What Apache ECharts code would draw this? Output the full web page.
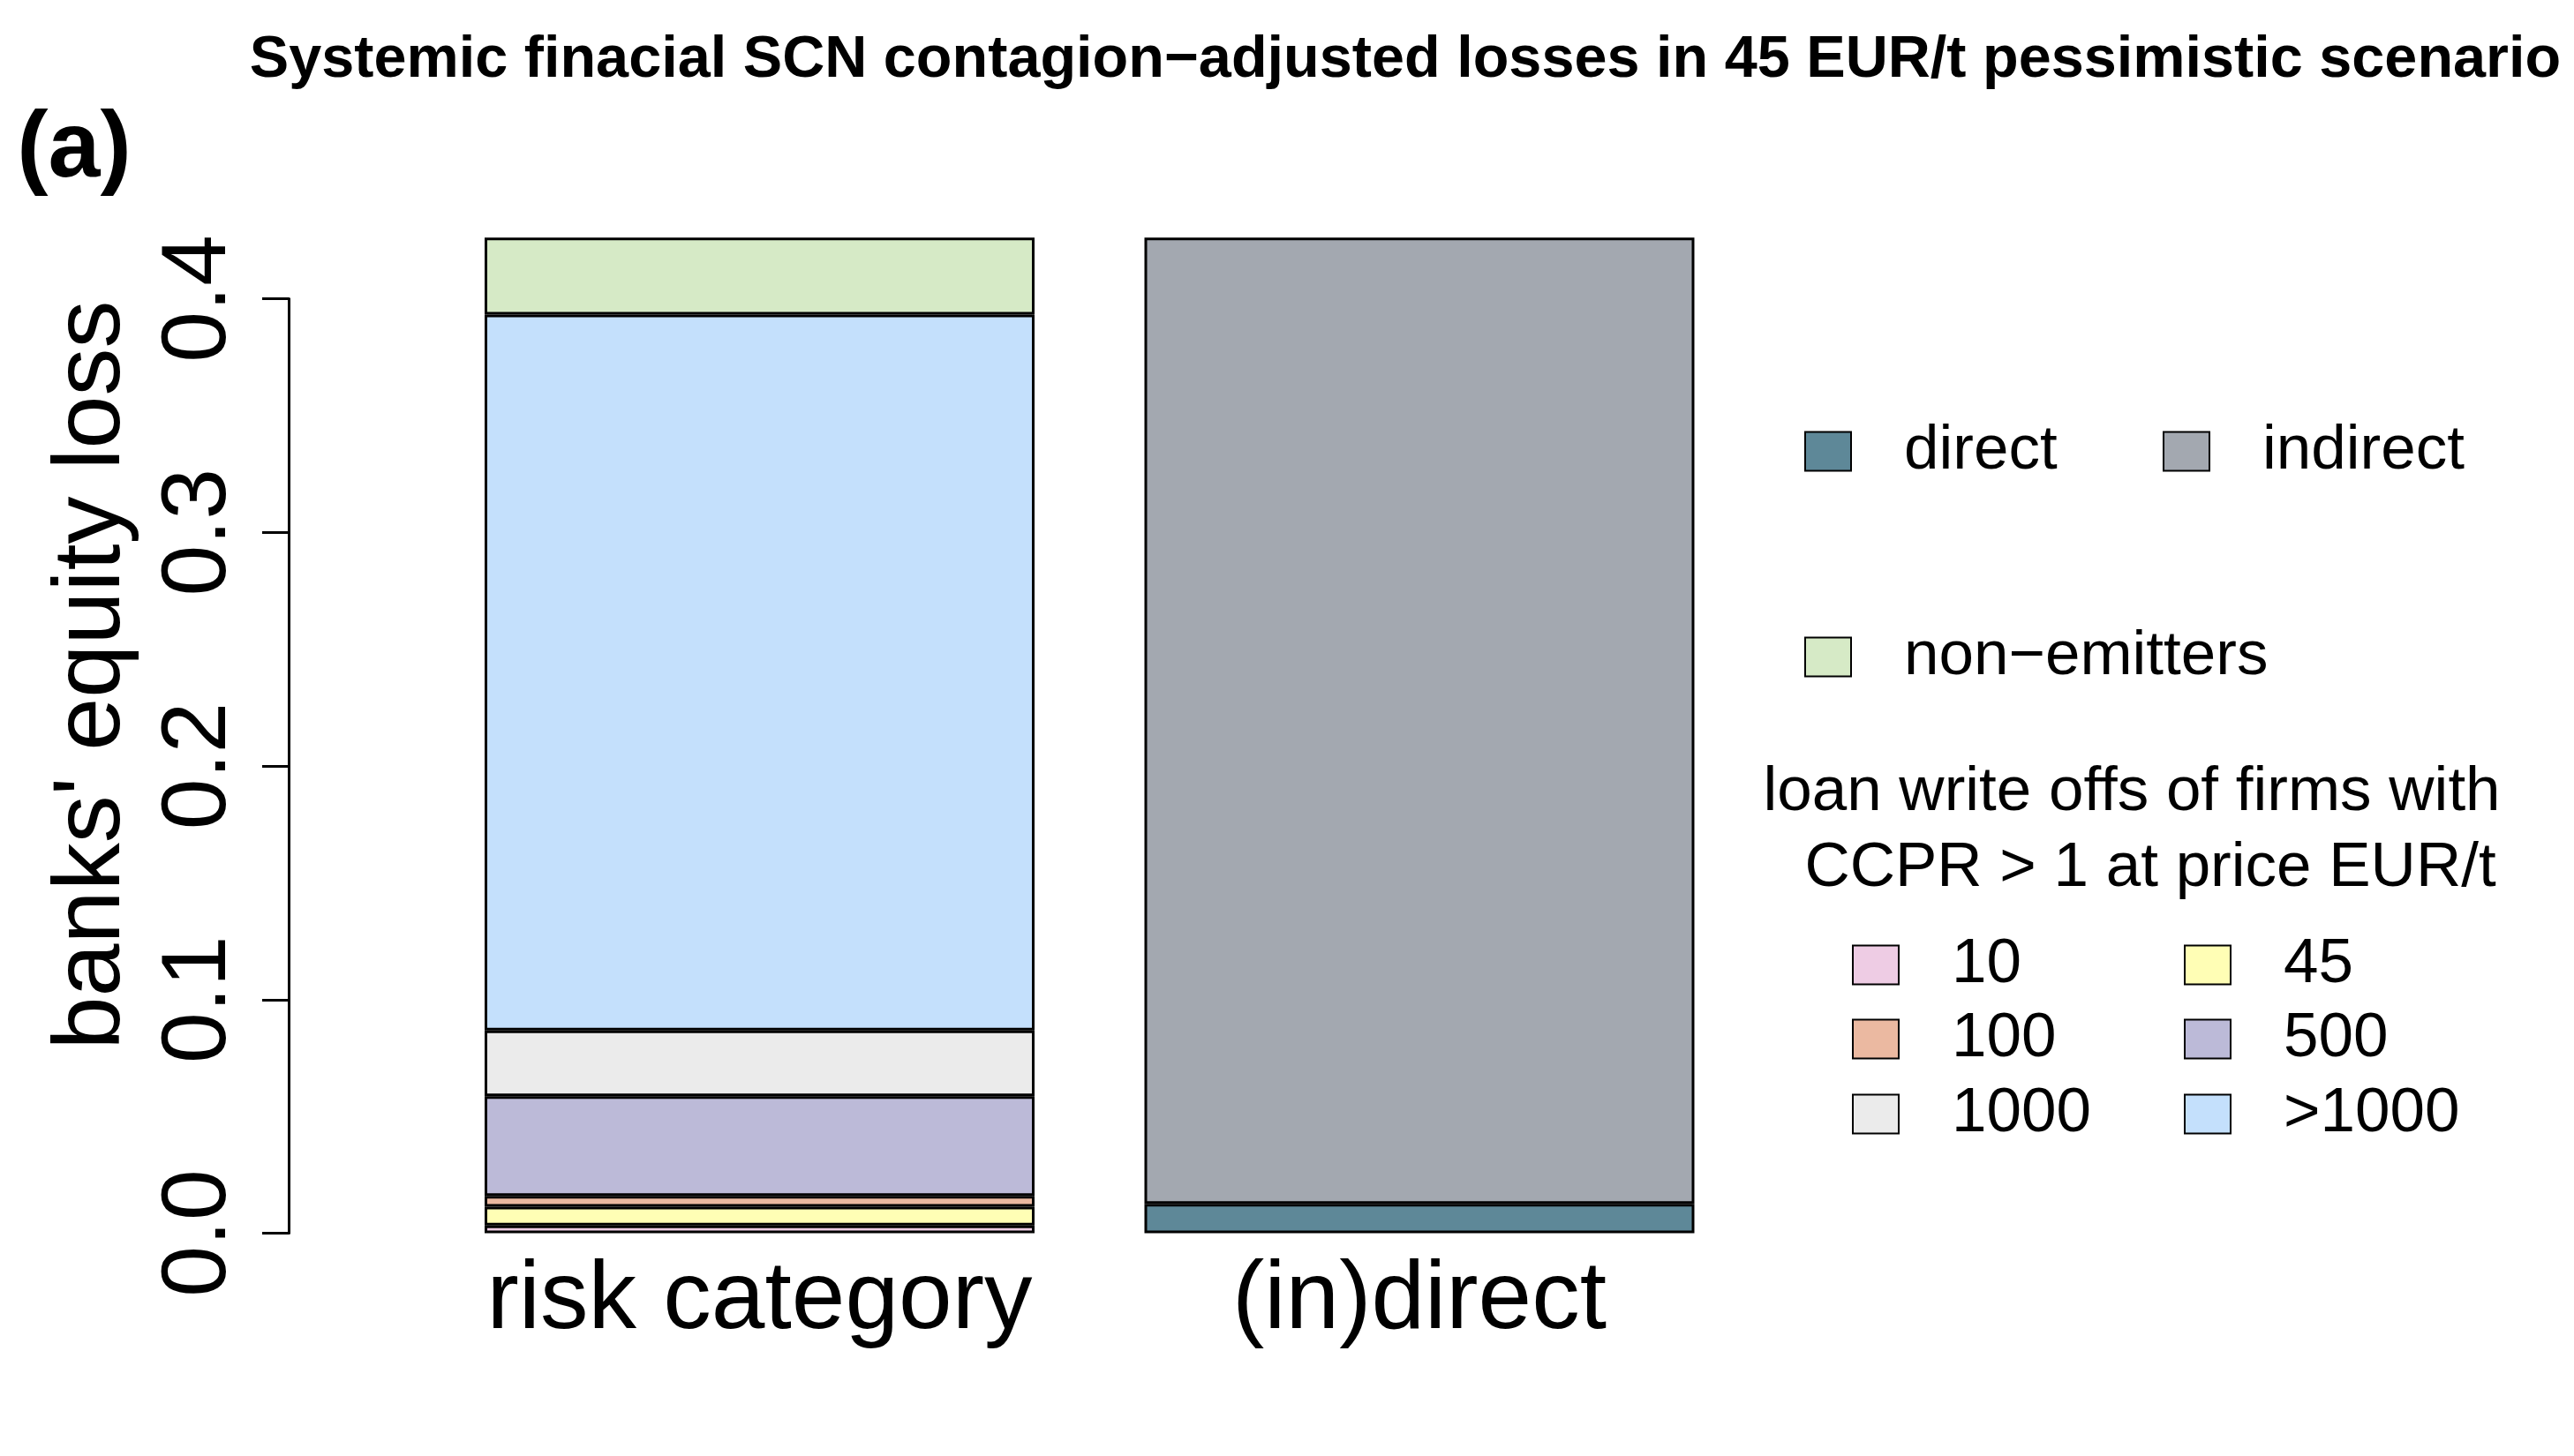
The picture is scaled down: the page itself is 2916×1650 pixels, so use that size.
<!DOCTYPE html>
<html><head><meta charset="utf-8">
<script src="https://cdn.jsdelivr.net/npm/echarts@6/dist/echarts.min.js"></script>
<style>html,body{margin:0;padding:0;background:#fff}#c{width:2916px;height:1650px}</style>
</head><body><div id="c"></div>
<script>
// ---- data ----
const categories = ['risk category', '(in)direct'];
const riskNames = ['10', '45', '100', '500', '1000', '>1000', 'non−emitters'];
const riskValues = [0.0033, 0.0080, 0.0047, 0.0426, 0.0282, 0.3064, 0.0330];
const channelNames = ['direct', 'indirect'];
const channelValues = [0.0126, 0.4136];
const yTicks = [0, 0.1, 0.2, 0.3, 0.4];
const titleText = 'Systemic finacial SCN contagion−adjusted losses in 45 EUR/t pessimistic scenario';
const legendTitle = ['loan write offs of firms with', 'CCPR > 1 at price EUR/t'];

// ---- styles ----
const FONT = '"Liberation Sans", Arial, Helvetica, sans-serif';
const colorMap = {
  '10': '#EECCE4', '45': '#FFFEB5', '100': '#EBB9A1', '500': '#BCBAD8',
  '1000': '#EBEBEB', '>1000': '#C4E0FC', 'non−emitters': '#D6EAC6',
  'direct': '#5E8898', 'indirect': '#A3A8B0'
};
const legendPos = {
  'direct': [2044, 498], 'indirect': [2450, 498], 'non−emitters': [2044, 731],
  '10': [2098, 1080], '45': [2474, 1080], '100': [2098, 1164], '500': [2474, 1164],
  '1000': [2098, 1249], '>1000': [2474, 1249]
};

const series = [];
riskNames.forEach((n, i) => {
  series.push({ name: n, type: 'bar', stack: 'total', barWidth: 623, clip: false,
    itemStyle: { color: colorMap[n], borderColor: '#000', borderWidth: 3 },
    data: [riskValues[i], '-'] });
});
channelNames.forEach((n, i) => {
  series.push({ name: n, type: 'bar', stack: 'total', barWidth: 623, clip: false,
    itemStyle: { color: colorMap[n], borderColor: '#000', borderWidth: 3 },
    data: ['-', channelValues[i]] });
});

const legends = Object.keys(legendPos).map(n => ({
  data: [n], left: legendPos[n][0], top: legendPos[n][1] - 22, padding: 0,
  itemWidth: 52, itemHeight: 44, icon: 'rect', selectedMode: false,
  textStyle: { fontSize: 71, color: '#000', fontFamily: FONT, padding: [0, 0, 0, 55] }
}));

function txt(x, y, text, size, weight) {
  return { type: 'text', x: x, y: y, style: { text: text, fill: '#000',
    font: (weight || 'normal') + ' ' + size + 'px ' + FONT,
    align: 'center', verticalAlign: 'middle', textAlign: 'center', textVerticalAlign: 'middle' } };
}

const chart = echarts.init(document.getElementById('c'), null, { renderer: 'canvas' });
chart.setOption({
  backgroundColor: '#fff',
  animation: false,
  textStyle: { fontFamily: FONT },
  grid: { left: 486.75, right: 934.25, top: 338.5, bottom: 252.5 },
  xAxis: { type: 'category', data: categories,
    axisLine: { show: false }, axisTick: { show: false },
    axisLabel: { interval: 0, fontSize: 109, color: '#000', margin: 23, fontFamily: FONT } },
  yAxis: { type: 'value', min: yTicks[0], max: yTicks[yTicks.length - 1], interval: 0.1,
    offset: 159.75, splitLine: { show: false },
    axisLine: { show: true, lineStyle: { color: '#000', width: 3 } },
    axisTick: { show: true, length: 30, lineStyle: { color: '#000', width: 3 } },
    axisLabel: { rotate: 90, fontSize: 104, color: '#000', margin: 49, fontFamily: FONT,
      formatter: v => v.toFixed(1) },
    name: "banks' equity loss", nameLocation: 'middle', nameRotate: 90, nameGap: 168,
    nameTextStyle: { fontSize: 108, color: '#000', fontFamily: FONT, padding: [0, 0, 0, 206] } },
  legend: legends,
  series: series,
  graphic: [
    txt(1592, 69, titleText, 66.6, 'bold'),
    txt(84, 171, '(a)', 106, 'bold'),
    txt(2415, 898, legendTitle[0], 71),
    txt(2436, 984, legendTitle[1], 71)
  ]
});
</script></body></html>
